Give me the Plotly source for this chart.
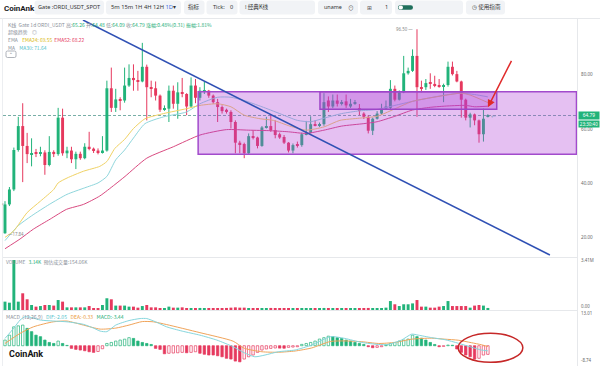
import plotly.graph_objects as go

# ---------------- data ----------------
day = list(range(110))

open_ = [21.5,32.1,37.6,52.1,60.9,53.6,50.6,50.8,50.7,51.2,
 46.6,51.4,50.6,64.0,50.9,51.9,48.7,50.7,49.1,53.3,
 52.6,51.9,51.2,51.9,74.8,67.6,70.7,70.3,75.8,78.6,
 77.8,77.3,82.7,75.2,74.8,72.1,66.9,67.3,73.9,69.1,
 73.3,72.7,68.1,75.8,71.3,73.6,73.9,72.1,69.7,67.9,
 66.9,66.1,62.4,54.8,54.3,50.9,57.2,56.7,53.6,60.4,
 60.9,59.4,57.9,56.9,54.8,51.9,53.9,53.9,57.9,58.4,
 61.6,61.2,61.6,70.3,68.1,70.3,69.1,70.0,68.1,69.1,
 67.5,65.5,64.3,59.2,63.6,65.5,67.3,67.6,74.6,70.6,
 73.3,80.3,81.2,86.7,75.2,75.2,76.7,76.4,76.0,75.4,
 76.0,82.7,80.0,77.3,70.6,64.0,65.2,63.0,57.9,64.48]

high = [33.3,38.5,53.0,64.3,69.3,58.4,56.4,52.5,53.3,52.0,
 57.2,52.0,67.6,67.3,53.3,53.3,51.5,51.5,54.6,58.8,
 53.0,52.7,57.2,77.6,82.4,74.6,71.5,82.4,83.6,83.6,
 81.2,91.5,83.5,77.6,77.3,72.5,68.5,75.8,75.8,77.0,
 78.6,73.0,78.8,78.2,75.2,77.3,74.2,72.5,70.9,68.5,
 67.3,66.7,63.0,55.5,54.8,58.2,59.4,57.0,60.9,64.3,
 64.9,63.0,58.5,57.6,55.0,54.5,55.2,58.5,62.8,64.5,
 63.0,62.2,73.0,71.8,72.5,72.5,70.5,72.5,70.9,70.5,
 69.0,66.0,64.9,64.0,66.4,69.1,70.3,77.8,75.8,74.0,
 86.7,82.4,89.1,96.5,77.6,78.2,80.3,79.4,78.2,76.5,
 84.6,84.6,81.2,77.6,71.0,65.8,65.5,63.3,67.3,65.26]

low = [21.3,31.5,37.0,51.5,40.3,47.3,46.1,49.5,49.8,43.0,
 46.1,49.5,50.0,50.0,49.1,47.3,45.1,48.5,48.7,52.0,
 51.0,50.5,50.8,51.5,66.1,66.1,66.7,69.5,75.3,73.9,
 73.9,77.0,63.0,71.5,70.3,66.1,66.5,62.4,67.3,63.6,
 71.5,64.9,67.6,69.3,70.3,72.7,71.3,69.1,62.4,65.5,
 65.5,60.0,50.9,50.9,49.1,50.7,56.0,52.7,53.3,60.0,
 58.8,56.4,56.2,54.3,51.2,50.9,53.0,53.3,57.5,58.2,
 60.8,60.6,61.0,66.1,67.5,68.1,68.5,67.6,67.6,68.7,
 64.9,63.5,58.2,57.6,63.3,65.0,67.0,66.7,70.0,70.3,
 73.0,79.8,80.8,64.3,73.3,74.2,74.6,75.2,75.0,69.7,
 75.4,79.5,77.0,64.0,63.0,60.4,61.2,54.8,55.2,64.09]

close = [32.1,37.6,52.1,60.9,53.6,50.6,50.8,50.7,51.2,46.6,
 51.4,50.6,64.0,50.9,51.9,48.7,50.7,49.1,53.3,52.6,
 51.9,51.2,51.9,74.8,67.6,70.7,70.3,75.8,78.6,77.8,
 77.3,82.7,75.2,74.8,72.1,66.9,67.3,73.9,69.1,73.3,
 72.7,68.1,75.8,71.3,73.9,73.9,72.1,69.7,67.9,66.4,
 66.1,62.4,54.8,54.3,50.9,57.2,56.7,53.6,60.4,60.9,
 59.4,57.6,56.7,54.8,51.9,53.9,53.6,57.9,58.4,61.6,
 61.2,61.6,69.7,68.1,70.3,69.1,69.7,68.5,69.1,69.7,
 66.4,64.3,59.2,63.6,65.5,67.3,68.1,74.6,70.6,73.3,
 80.3,81.2,86.7,75.2,74.8,76.7,76.4,75.8,75.4,76.0,
 82.7,80.0,77.3,70.6,64.0,65.2,63.0,57.9,63.6,64.79]

volume_m = [0.57,0.50,3.41,0.57,1.14,0.73,0.34,0.23,0.27,0.34,
 0.34,0.30,0.68,0.57,0.18,0.18,0.18,0.18,0.18,0.27,
 0.11,0.11,0.34,0.80,0.73,0.30,0.30,0.30,0.23,0.23,
 0.16,0.27,0.34,0.18,0.18,0.11,0.11,0.23,0.16,0.16,
 0.18,0.11,0.11,0.11,0.14,0.11,0.11,0.11,0.11,0.11,
 0.14,0.16,0.18,0.16,0.16,0.11,0.09,0.11,0.11,0.09,
 0.14,0.09,0.09,0.09,0.11,0.09,0.09,0.11,0.09,0.11,
 0.09,0.09,0.14,0.11,0.09,0.09,0.09,0.09,0.11,0.09,
 0.11,0.11,0.14,0.11,0.11,0.11,0.16,0.61,0.39,0.27,
 0.39,0.39,0.45,0.68,0.23,0.23,0.16,0.16,0.23,0.27,
 0.61,0.27,0.27,0.27,0.27,0.16,0.30,0.34,0.30,0.14]

macd_hist = [2.25,4.2,7.5,7.9,8.2,6.9,5.6,4.2,3.6,2.25,
 1.3,0.9,1.85,0.9,0.13,-1.06,-1.46,-1.72,-2.0,-2.4,
 -2.65,-2.3,-1.2,0.9,1.3,1.85,2.25,2.6,3.2,2.9,
 1.85,1.3,0.9,0.5,-1.06,-1.46,-3.2,-3.0,-2.9,-2.8,
 -2.65,-2.8,-2.65,-2.4,-3.0,-3.4,-3.7,-3.7,-4.0,-4.4,
 -5.0,-5.3,-6.1,-6.4,-5.3,-4.4,-3.7,-2.65,-1.72,-1.3,
 -1.06,-0.9,-0.95,-1.0,-0.66,-0.53,-0.4,0.53,0.9,1.3,
 1.85,2.65,3.2,3.8,3.6,3.2,2.9,2.25,1.85,1.3,
 0.9,0.5,-0.4,-0.8,-0.66,-0.4,0.26,0.9,1.3,1.85,
 2.25,2.65,4.2,3.6,3.0,2.25,1.3,0.5,-0.4,-0.26,
 0.26,0.2,-1.3,-2.65,-3.7,-4.4,-5.3,-5.0,-3.7,-3.44]

ema24_idx = [0,2,5,8,11,12,14,17.7,21.4,23,24.8,27,29,31.6,35.8,41,44,48,51,54,57.6,60.6,64.3,68,72,75.6,80,84,87,92,99,103,105,109]
ema24_val = [20.0,22.4,29.1,33.3,37.6,40.0,41.8,44.3,46.1,47.9,52.7,56.0,60.0,63.6,65.5,67.3,68.5,69.1,68.0,64.9,63.6,63.0,60.9,59.4,60.6,63.0,63.8,64.5,66.5,70.0,72.1,73.0,72.3,69.55]

ma30_idx = [0,3,6,10,14,18,21,23,25,27,29,31.6,35.8,41,44,48,51,54,58,62,66,69,72,76,80,84,88,92,96,100,103,106,109]
ma30_val = [18.8,24.3,27.9,32.1,35.8,38.2,40.0,42.4,48.5,52.1,56.5,61.8,64.3,66.1,69.1,71.5,71.5,70.3,68.0,65.5,63.0,62.5,63.8,65.5,66.5,67.0,68.5,70.0,71.3,72.5,73.0,72.5,71.64]

ema52_idx = [0,3.4,6.4,10.2,13.9,17.7,21.4,24.8,27.1,32,38,44,50,55,60,64,68,72,76,81,84,88,92,96,100,104,106,109]
ema52_val = [15.8,19.4,23.0,26.7,30.3,32.1,35.2,39.4,42.4,49.1,53.3,57.6,59.6,59.4,59.2,58.8,58.2,59.4,60.9,61.8,62.5,64.5,66.8,67.8,68.3,68.5,68.0,68.22]

dif_idx = [0,2,3.4,4.5,6,8,11,14,17.7,20,21.5,23,25,28,30.5,32,34,36.5,40,44,47.8,51.5,54,56.4,58.7,61.7,65.5,69.2,73.5,76.7,80.5,84.3,86.5,89.5,91.8,93.3,96.3,99.3,102.3,105.3,107.5,109]
dif_val = [2.9,7.0,10.2,11.5,11.2,10.2,9.8,9.5,8.5,7.0,5.8,5.6,8.2,10.0,10.8,10.8,9.5,7.5,5.8,4.2,2.25,-0.4,-2.8,-4.4,-3.7,-2.4,-1.7,0.26,3.6,2.9,1.3,0.5,0.5,2.25,4.6,4.2,3.2,2.4,1.0,-0.6,-1.7,-2.05]

dea_idx = [0,3.4,6.4,10.9,14,17.7,21.5,25,28,31,33.5,36.5,44,51.5,54,58,61.7,65.5,69.2,73.5,76.7,80.5,84.3,88,91.8,96.3,99.3,102.3,105.3,107.5,109]
dea_val = [0.9,4.9,7.5,9.5,9.8,8.2,6.6,7.0,8.2,9.6,9.5,8.4,5.2,1.8,-1.0,-2.4,-2.6,-2.1,-0.9,1.7,1.9,1.6,0.9,1.3,2.6,3.0,2.6,2.2,1.2,0.4,-0.33]

price_ticks = [80, 60, 40, 20]
price_tick_labels = ["80.00", "60.00", "40.00", "20.00"]
last_price = 64.79
high_mark = 96.5
low_mark_label = "17.84"
vol_max_label = "3.41M"
macd_top_label, macd_bottom_label = 13.01, -8.74

# drawings made on the chart (index, price)
zone_big = dict(x0=43.6, x1=129.0, y0=50.53, y1=73.54)
zone_small = dict(x0=71.1, x1=111.0, y0=67.07, y1=73.54)
trend_line = [(17.6, 99.9), (123.0, 13.5)]
arrow_tail = (114.5, 85.45)
arrow_tip = (109.0, 67.8)
macd_ellipse = dict(x0=102.3, x1=116.9, y0=-6.59, y1=4.92)

# ---------------- style ----------------
W, H = 600, 366
FONT = "Noto Sans CJK SC, Noto Sans, DejaVu Sans, sans-serif"
LFONT = "Noto Sans, DejaVu Sans, sans-serif"
GREEN = "#22b37a"
RED = "#e6395e"
GRAY = "#8a8f99"
C_EMA24 = "#f0d264"
C_MA30 = "#8ed6dc"
C_EMA52 = "#d9497f"
C_DIF = "#86d6dd"
C_DEA = "#f0a45a"


def PX(x):
    return x / W


def PY(y):
    return 1 - y / H


fig = go.Figure()

up = [c >= o for o, c in zip(open_, close)]
candle_col = [GREEN if u else RED for u in up]

# wicks
for col, flag in ((GREEN, True), (RED, False)):
    xs, ys = [], []
    for i in day:
        if up[i] == flag:
            xs += [i, i, None]
            ys += [low[i], high[i], None]
    fig.add_trace(go.Scatter(x=xs, y=ys, mode="lines", line=dict(color=col, width=1),
                             xaxis="x", yaxis="y", hoverinfo="skip"))

# bodies
body_base = [min(o, c) for o, c in zip(open_, close)]
body_h = [max(abs(c - o), 0.35) for o, c in zip(open_, close)]
fig.add_trace(go.Bar(x=day, y=body_h, base=body_base, width=0.66,
                     marker=dict(color=candle_col, line=dict(width=0)),
                     xaxis="x", yaxis="y", hoverinfo="skip"))

# moving averages
for xi, yv, col in ((ema52_idx, ema52_val, C_EMA52), (ma30_idx, ma30_val, C_MA30),
                    (ema24_idx, ema24_val, C_EMA24)):
    fig.add_trace(go.Scatter(x=xi, y=yv, mode="lines",
                             line=dict(color=col, width=1, shape="spline", smoothing=0.6),
                             xaxis="x", yaxis="y", hoverinfo="skip"))

# volume
fig.add_trace(go.Bar(x=day, y=volume_m, width=0.66,
                     marker=dict(color=candle_col, line=dict(width=0)),
                     xaxis="x2", yaxis="y2", hoverinfo="skip"))

# MACD histogram (hollow when rising)
fills, lines = [], []
for i, v in enumerate(macd_hist):
    col = GREEN if v >= 0 else RED
    rising = i == 0 or v > macd_hist[i - 1]
    fills.append("white" if rising else col)
    lines.append(col)
fig.add_trace(go.Bar(x=day, y=macd_hist, width=0.55,
                     marker=dict(color=fills, line=dict(color=lines, width=0.7)),
                     xaxis="x3", yaxis="y3", hoverinfo="skip"))
fig.add_trace(go.Scatter(x=dea_idx, y=dea_val, mode="lines",
                         line=dict(color=C_DEA, width=1, shape="spline", smoothing=0.6),
                         xaxis="x3", yaxis="y3", hoverinfo="skip"))
fig.add_trace(go.Scatter(x=dif_idx, y=dif_val, mode="lines",
                         line=dict(color=C_DIF, width=1, shape="spline", smoothing=0.6),
                         xaxis="x3", yaxis="y3", hoverinfo="skip"))

# ---------------- shapes ----------------
shapes = []


def rrect(x0, y0, x1, y1, r, fill, line=None):
    p = "M{},{} L{},{} ".format(PX(x0 + r), PY(y0), PX(x1 - r), PY(y0))
    p += "Q{},{} {},{} ".format(PX(x1), PY(y0), PX(x1), PY(y0 + r))
    p += "L{},{} ".format(PX(x1), PY(y1 - r))
    p += "Q{},{} {},{} ".format(PX(x1), PY(y1), PX(x1 - r), PY(y1))
    p += "L{},{} ".format(PX(x0 + r), PY(y1))
    p += "Q{},{} {},{} ".format(PX(x0), PY(y1), PX(x0), PY(y1 - r))
    p += "L{},{} ".format(PX(x0), PY(y0 + r))
    p += "Q{},{} {},{} Z".format(PX(x0), PY(y0), PX(x0 + r), PY(y0))
    shapes.append(dict(type="path", path=p, xref="paper", yref="paper", fillcolor=fill,
                       line=dict(color=line or fill, width=0.8 if line else 0), layer="below"))


TB = "#f1f3f6"
for x0, x1 in ((34.5, 104), (106, 181), (184, 204.5), (206.5, 237.5), (239.5, 315),
               (318, 358), (360, 392), (395, 463), (466, 505)):
    rrect(x0, 0.5, x1, 14.5, 3, TB)
# toggle pill
rrect(398, 5.2, 413, 9.8, 2.2, "#1f6f5c")
shapes.append(dict(type="circle", xref="paper", yref="paper", x0=PX(398.6), x1=PX(403),
                   y0=PY(9.4), y1=PY(5.6), fillcolor="white", line=dict(width=0)))
# collapse button
rrect(6, 51, 16, 57.5, 1.5, "white", "#9aa0a8")


def hline(y, x0, x1, col="#e6e8eb", w=1):
    shapes.append(dict(type="line", xref="paper", yref="paper", x0=PX(x0), x1=PX(x1),
                       y0=PY(y), y1=PY(y), line=dict(color=col, width=w)))


def vline(x, y0, y1, col="#e6e8eb", w=1):
    shapes.append(dict(type="line", xref="paper", yref="paper", x0=PX(x), x1=PX(x),
                       y0=PY(y0), y1=PY(y1), line=dict(color=col, width=w)))


hline(18.5, 0, 600)
hline(257.5, 2.5, 577.5)
hline(310.5, 2.5, 577.5)
vline(577.5, 18.5, 366)
vline(2.5, 18.5, 366, "#eceef1")

# last price dashed line
shapes.append(dict(type="line", xref="x", yref="y", x0=-0.45, x1=129.12,
                   y0=last_price, y1=last_price, layer="below",
                   line=dict(color="#78aea7", width=1, dash="3px,2px")))

# zones
shapes.append(dict(type="rect", xref="x", yref="y", layer="above",
                   fillcolor="rgba(176,64,216,0.33)",
                   line=dict(color="#a24bcc", width=1.5), **zone_big))
shapes.append(dict(type="rect", xref="x", yref="y", layer="above",
                   fillcolor="rgba(176,64,216,0.33)",
                   line=dict(color="#9d45c8", width=1.5), **zone_small))
# trend line
shapes.append(dict(type="line", xref="x", yref="y", layer="above",
                   x0=trend_line[0][0], y0=trend_line[0][1],
                   x1=trend_line[1][0], y1=trend_line[1][1],
                   line=dict(color="#2f50b4", width=1.5)))
# MACD ellipse
shapes.append(dict(type="circle", xref="x3", yref="y3", layer="above",
                   line=dict(color="#c62828", width=1.5), **macd_ellipse))

# ---------------- annotations ----------------
ann = []


def txt(x, y, s, size=4.6, color=GRAY, anchor="left", family=FONT):
    ann.append(dict(x=PX(x), y=PY(y), xref="paper", yref="paper", text=s, showarrow=False,
                    xanchor=anchor, yanchor="middle",
                    font=dict(size=size, color=color, family=family)))


def span(s, col):
    return '<span style="color:{}">{}</span>'.format(col, s)


# toolbar
txt(1.5, 8, "<b>CoinAnk</b>", 8, "#1b1b1b", family="Roboto, Noto Sans, sans-serif")
txt(69.3, 7.5, "Gate :ORDI_USDT_SPOT", 5.6, "#333", "center", LFONT)
txt(143.5, 7.5, "5m 15m 1H 4H 12H " + span("1D", "#3a6fe0") + "▾", 5.8, "#333", "center", LFONT)
txt(194.3, 7.5, "指标", 5.6, "#333", "center")
txt(211, 7.5, "Tick:", 5.6, "#333", "left", LFONT)
txt(231, 7.5, "0", 5.6, "#333", "center", LFONT)
txt(243, 7.5, "⁞ 经典K线", 5.6, "#333")
txt(321.5, 7.5, "uname", 5.4, "#333", "left", LFONT)
txt(351, 7.5, "⊙", 5.8, "#555", "center")
txt(369, 7.5, "⊞", 5.8, "#555", "center")
txt(386, 7.5, "1", 5.6, "#333", "center", LFONT)
txt(469.5, 7.5, "◷ 使用指南", 5.6, "#333")

# chart info
VG = "#1fae78"
txt(6, 25, "K线  Gate 1d ORDI_USDT " + "高:" + span("65.26", VG) + " 开:" + span("64.48", VG)
    + " 低:" + span("64.09", VG) + " 收:" + span("64.79", VG)
    + " " + span("涨幅:0.48%(0.31)", VG) + " " + span("振幅:1.81%", VG), 5.0)
txt(6, 32.3, "超级趋势    ◎", 4.9)
txt(6, 39.7, "EMA    " + span("EMA24: 69.55", "#d9b90c") + "  " + span("EMA52: 68.22", "#e5365c"), 4.9)
txt(6, 47, "MA    " + span("MA30: 71.64", "#4fc1ca"), 4.9)
txt(11, 54.2, "⌃", 4.6, "#666", "center")
txt(3.2, 203.5, "‹", 6, "#888", "center")

txt(4, 261.7, "VOLUME   " + span("3.14K", VG) + "  预估成交量:154.06K", 4.9)
txt(4, 316.8, "MACD  (12,26,9)   " + span("DIF:-2.05", "#56c3cc") + "   "
    + span("DEA:-0.33", "#eb9a3e") + "   " + span("MACD:-3.44", VG), 5.1)
txt(7, 353.5, "<b>CoinAnk</b>", 9, "#151515", family="Roboto, Noto Sans, sans-serif")

# right axis labels (placed with the axes' scales)
for v, lab in zip(price_ticks, price_tick_labels):
    ann.append(dict(x=PX(579), xref="paper", y=v, yref="y", text=lab, showarrow=False,
                    xanchor="left", yanchor="middle", font=dict(size=4.6, color="#666", family=LFONT)))
ann.append(dict(x=PX(588.5), xref="paper", y=last_price, yref="y", text="{:.2f}".format(last_price),
                showarrow=False, xanchor="center", yanchor="middle", bgcolor=GREEN,
                width=20, height=6.6, borderpad=0, font=dict(size=4.8, color="white", family=LFONT)))
ann.append(dict(x=PX(588.5), xref="paper", y=last_price, yref="y", yshift=-8.3, text="23:30:40",
                showarrow=False, xanchor="center", yanchor="middle", bgcolor=GREEN,
                width=20, height=6.4, borderpad=0, font=dict(size=4.5, color="white", family=LFONT)))
ann.append(dict(x=PX(579), xref="paper", y=3.41, yref="y2", text=vol_max_label, showarrow=False,
                xanchor="left", yanchor="middle", font=dict(size=4.4, color="#666", family=LFONT)))
ann.append(dict(x=PX(579), xref="paper", y=0, yref="y2", yshift=4, text="0.00", showarrow=False,
                xanchor="left", yanchor="middle", font=dict(size=4.4, color="#666", family=LFONT)))
ann.append(dict(x=PX(579), xref="paper", y=macd_top_label, yref="y3", text="{:.2f}".format(macd_top_label),
                showarrow=False, xanchor="left", yanchor="middle",
                font=dict(size=4.4, color="#666", family=LFONT)))
txt(579, 360, "{:.2f}".format(macd_bottom_label), 4.4, "#666", "left", LFONT)

# extreme price marks
ann.append(dict(x=93, xref="x", y=high_mark, yref="y", xshift=-1.5, text="{:.2f} —".format(high_mark),
                showarrow=False, xanchor="right", yanchor="middle",
                font=dict(size=4.4, color="#888", family=LFONT)))
ann.append(dict(x=0, xref="x", y=low[0], yref="y", xshift=1.5, text="—" + low_mark_label,
                showarrow=False, xanchor="left", yanchor="middle",
                font=dict(size=4.4, color="#888", family=LFONT)))
ann.append(dict(x=109, xref="x", y=last_price, yref="y", xshift=6, text="←", showarrow=False,
                xanchor="center", yanchor="middle", font=dict(size=5, color="#6f8fb0", family=FONT)))

# red arrow
ann.append(dict(x=arrow_tip[0], y=arrow_tip[1], xref="x", yref="y",
                ax=arrow_tail[0], ay=arrow_tail[1], axref="x", ayref="y",
                text="", showarrow=True, arrowhead=2, arrowsize=1, arrowwidth=1.5,
                arrowcolor="#e02a2a", standoff=0))

ax = dict(domain=[PX(3), PX(577)], range=[-0.45, 129.12], visible=False, fixedrange=True)
fig.update_layout(
    width=W, height=H, margin=dict(l=0, r=0, t=0, b=0),
    paper_bgcolor="white", plot_bgcolor="rgba(0,0,0,0)",
    showlegend=False, barmode="overlay",
    xaxis=dict(ax, anchor="y"),
    xaxis2=dict(ax, anchor="y2"),
    xaxis3=dict(ax, anchor="y3"),
    yaxis=dict(domain=[PY(257), PY(20)], range=[12.77, 99.9], visible=False, fixedrange=True),
    yaxis2=dict(domain=[PY(310), PY(258)], range=[0, 3.547], visible=False, fixedrange=True),
    yaxis3=dict(domain=[0, PY(311)], range=[-8.06, 13.8], visible=False, fixedrange=True),
    shapes=shapes, annotations=ann,
)

fig.write_html(
    "out.html",
    config={"displayModeBar": False},
    post_script="document.documentElement.style.margin='0';document.body.style.margin='0';"
                "document.body.style.padding='0';document.body.style.overflow='hidden';"
                "document.documentElement.style.overflow='hidden';",
)
